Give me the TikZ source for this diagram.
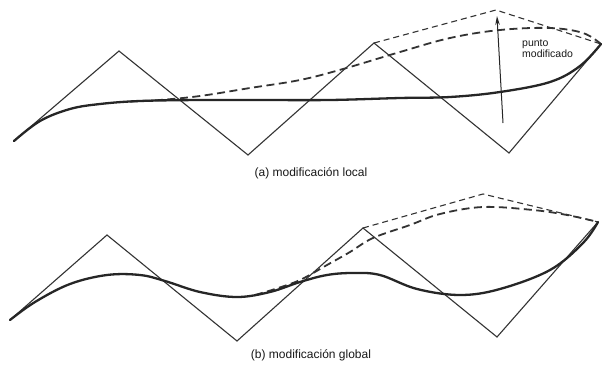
\documentclass[tikz,border=0pt]{standalone}
\usepackage{fontspec}
\setmainfont{Liberation Sans}
\usetikzlibrary{arrows.meta}
\begin{document}
\begin{tikzpicture}[x=1pt,y=-1pt,
  poly/.style={draw=black!80,line width=1.1pt},
  curve/.style={draw=black!85,line width=2.3pt,line cap=round},
  dcurve/.style={draw=black!80,line width=1.8pt,dash pattern=on 8pt off 4.5pt},
  dpoly/.style={draw=black!80,line width=1.1pt,dash pattern=on 6pt off 4pt},
  captext/.style={font=\fontsize{12}{14}\selectfont,text=black!90},
  lab/.style={font=\fontsize{10.5}{11.5}\selectfont,text=black!90,align=left,inner sep=0pt}]
\useasboundingbox (0,0) rectangle (602,364);
\fill[white] (0,0) rectangle (602,364);
% ---------- (a) ----------
\coordinate (a0) at (14,141);
\coordinate (a1) at (119,51);
\coordinate (a2) at (248,155);
\coordinate (a3) at (374,43);
\coordinate (a4) at (509,153);
\coordinate (a5) at (601,44);
\coordinate (am) at (496,10);
\coordinate (as) at (503,123);
\coordinate (ae) at (497,16);
\draw[poly] (a0) -- (a1) -- (a2) -- (a3) -- (a4) -- (a5);
\draw[dpoly] (a3) -- (am) -- (a5);
\draw[dcurve] plot[smooth,tension=0.6] coordinates {(130,101.5) (160,100) (200,96) (250,88) (300,80) (343,69) (400,52) (450,38) (500,30) (550,28) (583,33) (a5)};
\draw[curve] plot[smooth,tension=0.6] coordinates {(a0) (40,121) (70,109) (100,104) (140,101) (200,100) (260,100) (330,100) (400,98) (450,97) (500,92) (550,82) (580,66) (a5)};
\draw[black!85,line width=1pt,-{Stealth[length=9pt,width=4.5pt]}] (as) -- (ae);
\node[lab,anchor=west] (pm) at (522,48.5) {punto\\modificado};
\node[captext] (ca) at (311,173) {(a) modificación local};
% ---------- (b) ----------
\coordinate (b0) at (10,320);
\coordinate (b1) at (107,235);
\coordinate (b2) at (237,341);
\coordinate (b3) at (363,228);
\coordinate (b4) at (497,337);
\coordinate (b5) at (598,222);
\coordinate (bm) at (483,194);
\draw[poly] (b0) -- (b1) -- (b2) -- (b3) -- (b4) -- (b5);
\draw[dpoly] (b3) -- (bm) -- (b5);
\draw[dcurve] plot[smooth,tension=0.6] coordinates {(255,295) (275,289) (300,280) (327,265) (350,252) (373,238) (410,225) (440,214) (483,207) (533,210) (567,215) (b5)};
\draw[curve] plot[smooth,tension=0.6] coordinates {(b0) (35,302) (70,284) (107,275) (140,275) (165,281) (200,292) (237,297) (270,292) (300,282) (327,275) (353,273) (380,275) (417,289) (460,295) (500,289) (550,270) (583,243) (b5)};
\node[captext] (cb) at (311,355) {(b) modificación global};
\end{tikzpicture}
\end{document}
